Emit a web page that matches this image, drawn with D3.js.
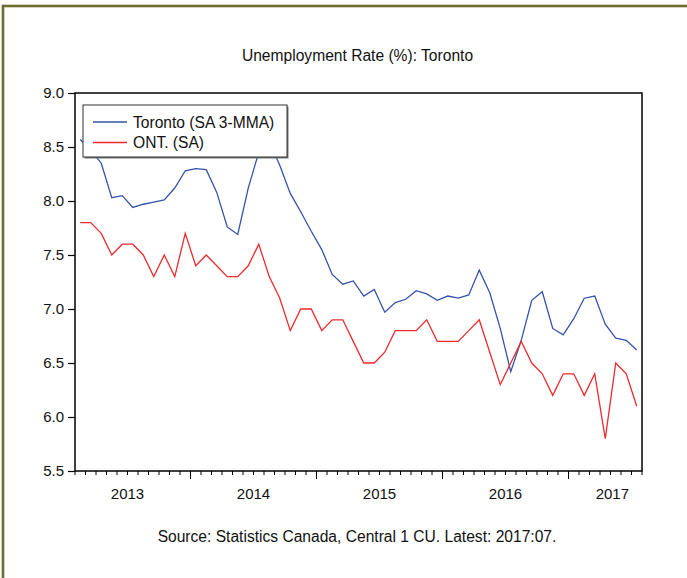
<!DOCTYPE html>
<html>
<head>
<meta charset="utf-8">
<script src="https://cdn.jsdelivr.net/npm/d3@7"></script>
<style>
  html, body { margin: 0; padding: 0; background: #ffffff; }
  svg { display: block; }
  text { font-family: "Liberation Sans", Arial, sans-serif; fill: #111; }
</style>
</head>
<body>
<svg id="chart" width="687" height="578"></svg>
<script>
// ---- data ----
const months = [
  "2013:02","2013:03","2013:04","2013:05","2013:06","2013:07","2013:08","2013:09","2013:10","2013:11","2013:12",
  "2014:01","2014:02","2014:03","2014:04","2014:05","2014:06","2014:07","2014:08","2014:09","2014:10","2014:11","2014:12",
  "2015:01","2015:02","2015:03","2015:04","2015:05","2015:06","2015:07","2015:08","2015:09","2015:10","2015:11","2015:12",
  "2016:01","2016:02","2016:03","2016:04","2016:05","2016:06","2016:07","2016:08","2016:09","2016:10","2016:11","2016:12",
  "2017:01","2017:02","2017:03","2017:04","2017:05","2017:06","2017:07"
];
const toronto = [
  8.57, 8.47, 8.35, 8.03, 8.05, 7.94, 7.97, 7.99, 8.01, 8.12, 8.28,
  8.30, 8.29, 8.08, 7.76, 7.69, 8.12, 8.45, 8.55, 8.33, 8.07, 7.90, 7.72,
  7.55, 7.32, 7.23, 7.26, 7.12, 7.18, 6.97, 7.06, 7.09, 7.17, 7.14, 7.08,
  7.12, 7.10, 7.13, 7.36, 7.15, 6.82, 6.42, 6.71, 7.08, 7.16, 6.82, 6.76,
  6.91, 7.10, 7.12, 6.86, 6.73, 6.71, 6.62
];
const ontario = [
  7.8, 7.8, 7.7, 7.5, 7.6, 7.6, 7.5, 7.3, 7.5, 7.3, 7.7,
  7.4, 7.5, 7.4, 7.3, 7.3, 7.4, 7.6, 7.3, 7.1, 6.8, 7.0, 7.0,
  6.8, 6.9, 6.9, 6.7, 6.5, 6.5, 6.6, 6.8, 6.8, 6.8, 6.9, 6.7,
  6.7, 6.7, 6.8, 6.9, 6.6, 6.3, 6.5, 6.7, 6.5, 6.4, 6.2, 6.4,
  6.4, 6.2, 6.4, 5.8, 6.5, 6.4, 6.1
];
const seriesNames = ["Toronto (SA 3-MMA)", "ONT. (SA)"];
const seriesColors = ["#3553a8", "#ee2a2e"];
const yTicks = [5.5, 6.0, 6.5, 7.0, 7.5, 8.0, 8.5, 9.0];
const yearLabels = ["2013", "2014", "2015", "2016", "2017"];
const titleText = "Unemployment Rate (%): Toronto";
const sourceText = "Source: Statistics Canada, Central 1 CU. Latest: 2017:07.";

// ---- layout ----
const svg = d3.select("#chart");
const L = 75, R = 642, T = 93, B = 471;
const FONT = 15;
const FONT_TXT = 15.6;

// olive outer frame
svg.append("rect")
  .attr("x", 3).attr("y", 6).attr("width", 720).attr("height", 620)
  .attr("fill", "none").attr("stroke", "#6f6c2e").attr("stroke-width", 2.6);

const x = d3.scaleBand().domain(months).range([L, R]).padding(0);
const y = d3.scaleLinear().domain([5.5, 9.0]).range([B, T]);
const cx = m => x(m) + x.bandwidth() / 2;

// title
svg.append("text").attr("x", 357.5).attr("y", 61)
  .attr("text-anchor", "middle").style("font-size", FONT_TXT + "px").text(titleText);

// y axis
const yAxis = d3.axisLeft(y).tickValues(yTicks).tickFormat(d3.format(".1f"))
  .tickSize(7).tickPadding(4);
const gy = svg.append("g").attr("transform", `translate(${L},0)`).call(yAxis);
gy.select(".domain").remove();
gy.selectAll(".tick line").attr("stroke", "#000").attr("stroke-width", 1.2);
gy.selectAll(".tick text").style("font-size", FONT + "px")
  .style("font-family", '"Liberation Sans", Arial, sans-serif').attr("fill", "#111");

// x axis: month ticks at band boundaries
const boundaries = months.map(m => ({ m, pos: x(m), major: m.endsWith(":01") }));
boundaries.push({ m: "end", pos: R, major: false });
svg.append("g").selectAll("line").data(boundaries).join("line")
  .attr("x1", d => d.pos).attr("x2", d => d.pos)
  .attr("y1", B).attr("y2", d => B + (d.major ? 8 : 4))
  .attr("stroke", "#000").attr("stroke-width", 1);

// year labels centred at mid-year, clamped inside the plot
const yearG = svg.append("g");
yearLabels.forEach(yr => {
  const key = yr + ":07";
  const t = yearG.append("text").attr("y", 499).attr("text-anchor", "middle")
    .style("font-size", FONT + "px").text(yr);
  let px = x(key);
  const w = t.node().getComputedTextLength();
  if (px + w / 2 > R - 13) px = R - 13 - w / 2;
  t.attr("x", px);
});

// series lines
const series = [toronto, ontario];
const line = d3.line().x((d, i) => cx(months[i])).y(d => y(d));
series.forEach((vals, k) => {
  svg.append("path").datum(vals)
    .attr("d", line).attr("fill", "none")
    .attr("stroke", seriesColors[k]).attr("stroke-width", 1.3)
    .attr("stroke-linejoin", "miter");
});

// plot frame
svg.append("rect").attr("x", L).attr("y", T).attr("width", R - L).attr("height", B - T)
  .attr("fill", "none").attr("stroke", "#000").attr("stroke-width", 1.5);

// legend
const lg = svg.append("g");
const lx = 83, ly = 105, lw = 204, lh = 52;
lg.append("rect").attr("x", lx + 1.5).attr("y", ly + 1.5).attr("width", lw).attr("height", lh)
  .attr("fill", "#777");
lg.append("rect").attr("x", lx).attr("y", ly).attr("width", lw).attr("height", lh)
  .attr("fill", "#fff").attr("stroke", "#333").attr("stroke-width", 1);
seriesNames.forEach((name, k) => {
  const yy = ly + 17 + k * 20.5;
  lg.append("line").attr("x1", lx + 10).attr("x2", lx + 44).attr("y1", yy).attr("y2", yy)
    .attr("stroke", seriesColors[k]).attr("stroke-width", 1.3);
  lg.append("text").attr("x", lx + 50).attr("y", yy + 5.5)
    .style("font-size", FONT_TXT + "px").text(name);
});

// source note
svg.append("text").attr("x", 357).attr("y", 542)
  .attr("text-anchor", "middle").style("font-size", FONT_TXT + "px").text(sourceText);
</script>
</body>
</html>
